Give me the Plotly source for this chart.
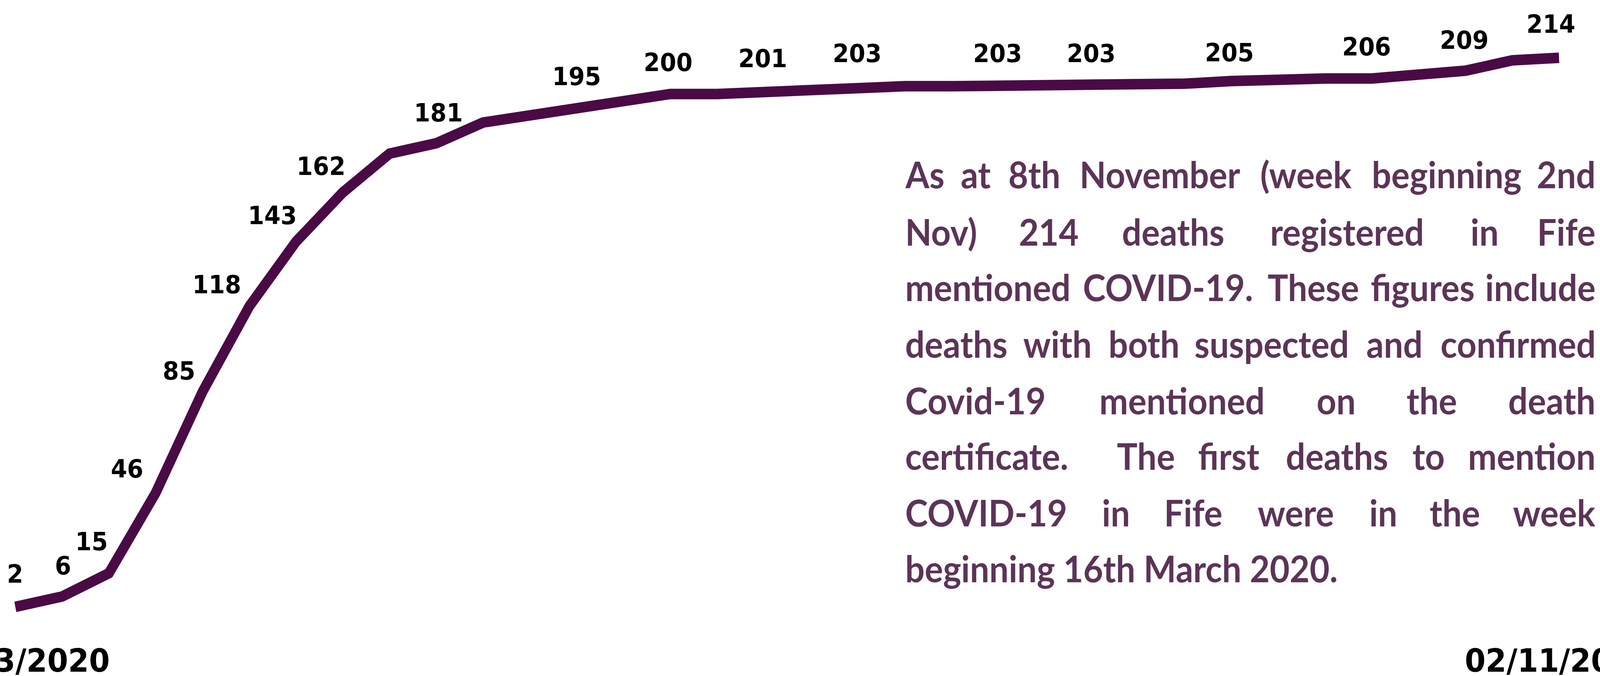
import plotly.graph_objects as go
import pandas as pd

# ---------------- data ----------------
weeks = ["2020-03-16", "2020-03-23", "2020-03-30", "2020-04-06", "2020-04-13",
         "2020-04-20", "2020-04-27", "2020-05-04", "2020-05-11", "2020-05-18",
         "2020-05-25", "2020-06-01", "2020-06-08", "2020-06-15", "2020-06-22",
         "2020-06-29", "2020-07-06", "2020-07-13", "2020-07-20", "2020-07-27",
         "2020-08-03", "2020-08-10", "2020-08-17", "2020-08-24", "2020-08-31",
         "2020-09-07", "2020-09-14", "2020-09-21", "2020-09-28", "2020-10-05",
         "2020-10-12", "2020-10-19", "2020-10-26", "2020-11-02"]
deaths = [2, 6, 15, 46, 85, 118, 143, 162, 177, 181,
          189, 192, 195, 197, 200, 200, 201, 201, 203, 203,
          203, 203, 203, 203, 203, 204, 205, 206, 206, 206,
          208, 209, 213, 214]
labelled = [0, 1, 2, 3, 4, 5, 6, 7, 9, 12, 14, 16, 18, 21, 23, 26, 29, 31, 33]
tick_weeks = [weeks[0], weeks[-1]]

text_lines = [
    ["As", "at", "8th", "November", "(week", "beginning", "2nd"],
    ["Nov)", "214", "deaths", "registered", "in", "Fife"],
    ["mentioned", "COVID-19.", "These", "figures", "include"],
    ["deaths", "with", "both", "suspected", "and", "confirmed"],
    ["Covid-19", "mentioned", "on", "the", "death"],
    ["certificate.", "The", "first", "deaths", "to", "mention"],
    ["COVID-19", "in", "Fife", "were", "in", "the", "week"],
    ["beginning 16th March 2020."],
]

# ---------------- layout helpers ----------------
W, H = 4375, 1731
LINE_COLOR = "#4A0A45"
TEXT_COLOR = "#5C3457"

label_shift = {
    0: (0, 84), 1: (3, 78), 2: (-47, 81), 3: (-78, 61), 4: (-64, 53),
    5: (-89, 56), 6: (-64, 67), 7: (-59, 67), 9: (6, 78), 12: (0, 78),
    14: (-6, 81), 16: (-3, 84), 18: (0, 84), 21: (0, 84), 23: (0, 84),
    26: (-6, 73), 29: (-14, 81), 31: (-3, 78), 33: (-22, 86),
}

word_spans = [
    [(2473, 2576), (2627, 2709), (2759, 2898), (2948, 3395), (3445, 3697), (3748, 4163), (4214, 4365)],
    [(2473, 2671), (2788, 2948), (3065, 3351), (3468, 3899), (4025, 4094), (4214, 4365)],
    [(2473, 2929), (2954, 3433), (3471, 3710), (3742, 4037), (4063, 4365)],
    [(2473, 2759), (2797, 2986), (3030, 3225), (3263, 3691), (3733, 3893), (3930, 4365)],
    [(2473, 2860), (3005, 3458), (3603, 3704), (3849, 3981), (4126, 4365)],
    [(2473, 2929), (3061, 3206), (3275, 3445), (3515, 3796), (3861, 3952), (4019, 4365)],
    [(2473, 2916), (3017, 3086), (3187, 3338), (3439, 3647), (3748, 3817), (3911, 4044), (4144, 4365)],
    [(2473, 3666)],
]
line_y = [446, 592, 734, 879, 1024, 1166, 1311, 1454]

fig = go.Figure()
fig.add_trace(go.Scatter(
    x=weeks, y=deaths, mode="lines",
    line=dict(color=LINE_COLOR, width=27, shape="linear"),
    hoverinfo="x+y", showlegend=False,
))

annotations = []
for i in labelled:
    dx, dy = label_shift[i]
    annotations.append(dict(
        x=weeks[i], y=deaths[i], xref="x", yref="y",
        text=str(deaths[i]), showarrow=False,
        xanchor="center", yanchor="middle",
        xshift=dx, yshift=dy,
        font=dict(family="DejaVu Sans", size=64, color="#000000", weight="bold"),
    ))

for wk in tick_weeks:
    annotations.append(dict(
        x=wk, y=1 - 1691 / H, xref="x", yref="paper",
        text=pd.Timestamp(wk).strftime("%d/%m/%Y"), showarrow=False,
        xanchor="center", yanchor="middle",
        font=dict(family="DejaVu Sans", size=82, color="#000000", weight="bold"),
    ))

for words, spans, ly in zip(text_lines, word_spans, line_y):
    n = len(words)
    for j, (wd, (l, r)) in enumerate(zip(words, spans)):
        if j == 0:
            xa, xp = "left", l
        elif j == n - 1 and n > 1:
            xa, xp = "right", r
        else:
            xa, xp = "center", (l + r) / 2
        annotations.append(dict(
            x=xp / W, y=1 - ly / H, xref="paper", yref="paper",
            text=wd, showarrow=False, xanchor=xa, yanchor="middle",
            font=dict(family="Lato", size=94, color=TEXT_COLOR, weight="bold"),
        ))

t0 = pd.Timestamp(weeks[0])
t1 = pd.Timestamp(weeks[-1])
wk = pd.Timedelta(days=7)
fig.update_layout(
    width=W, height=H,
    margin=dict(l=0, r=0, t=0, b=0),
    paper_bgcolor="white", plot_bgcolor="white",
    xaxis=dict(visible=False, range=[t0 - 0.328 * wk, t1 + 0.876 * wk]),
    yaxis=dict(visible=False, range=[-24.7, 236.3]),
    annotations=annotations,
)

# fit the fixed-size figure exactly into whatever viewport the page gets
fit_js = """
(function(){
  var gd = document.getElementById('{plot_id}');
  document.documentElement.style.overflow = 'hidden';
  document.body.style.margin = '0';
  document.body.style.overflow = 'hidden';
  var holder = gd.parentElement;
  holder.style.position = 'absolute';
  holder.style.left = '0px';
  holder.style.top = '0px';
  holder.style.transformOrigin = '0 0';
  var sx = document.documentElement.clientWidth / %d;
  var sy = document.documentElement.clientHeight / %d;
  holder.style.transform = 'scale(' + sx + ',' + sy + ')';
})();
""" % (W, H)

fig.write_html("out.html", post_script=fit_js,
               config={"displayModeBar": False})
